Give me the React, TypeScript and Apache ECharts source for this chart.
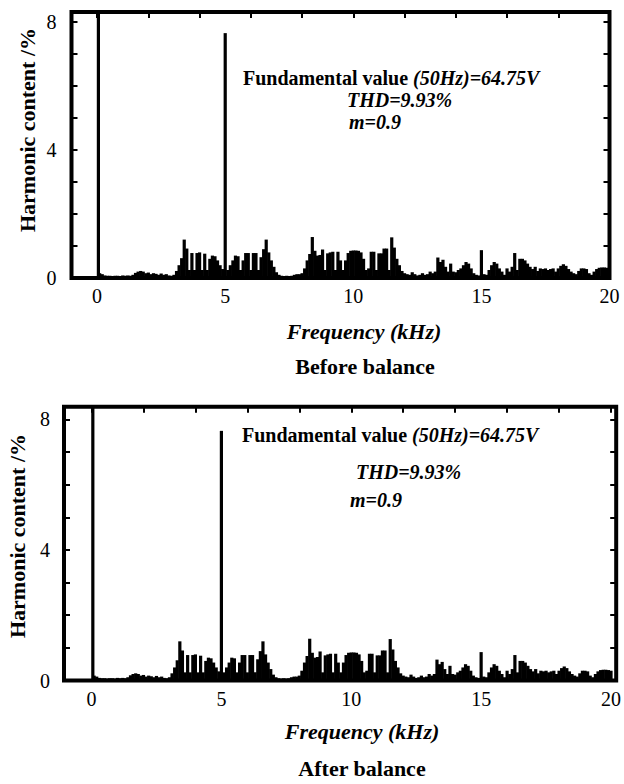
import React, { useEffect, useRef } from "react";
import * as echarts from "echarts";

// Harmonic spectrum (% of fundamental) at 0.1 kHz steps
const fundamentalKHz = 0.05;
const fundamentalPct = 100;
const band0to5 = [
  0.15, 0.12, 0.08, 0.07, 0.07, 0.06, 0.07, 0.07, 0.06, 0.08,
  0.07, 0.08, 0.07, 0.1, 0.16, 0.2, 0.22, 0.2, 0.15, 0.17,
  0.12, 0.15, 0.13, 0.1, 0.14, 0.1, 0.12, 0.08, 0.07, 0.1,
  0.22, 0.4, 0.62, 1.2, 0.92, 0.25, 0.78, 0.25, 0.78, 0.8,
  0.25, 0.76, 0.25, 0.6, 0.7, 0.68, 0.55, 0.4, 0.28, 7.65,
];
const band5to10 = [
  0.25, 0.4, 0.55, 0.7, 0.68, 0.25, 0.55, 0.78, 0.78, 0.25,
  0.78, 0.78, 0.25, 0.65, 0.9, 1.2, 0.8, 0.55, 0.35, 0.18,
  0.1, 0.07, 0.06, 0.07, 0.06, 0.07, 0.1, 0.12, 0.12, 0.15,
  0.3, 0.55, 0.75, 1.28, 0.85, 0.7, 0.72, 0.89, 0.25, 0.77,
  0.8, 0.82, 0.25, 0.82, 0.55, 0.25, 0.55, 0.78, 0.85, 0.86,
];
const band10to15 = [
  0.86, 0.85, 0.8, 0.6, 0.25, 0.3, 0.82, 0.82, 0.25, 0.77,
  0.77, 0.92, 0.92, 0.25, 1.27, 0.95, 0.6, 0.4, 0.22, 0.15,
  0.12, 0.1, 0.18, 0.12, 0.08, 0.1, 0.15, 0.1, 0.12, 0.2,
  0.15, 0.2, 0.64, 0.5, 0.57, 0.35, 0.2, 0.45, 0.2, 0.18,
  0.25, 0.3, 0.4, 0.5, 0.45, 0.3, 0.15, 0.1, 0.08, 0.87,
];
const band15to20 = [
  0.12, 0.1, 0.25, 0.4, 0.5, 0.45, 0.3, 0.2, 0.1, 0.3,
  0.2, 0.35, 0.78, 0.25, 0.6, 0.6, 0.55, 0.45, 0.35, 0.28,
  0.35, 0.22, 0.3, 0.28, 0.3, 0.25, 0.28, 0.3, 0.2, 0.3,
  0.38, 0.43, 0.38, 0.28, 0.2, 0.15, 0.12, 0.22, 0.3, 0.3,
  0.28, 0.15, 0.1, 0.2, 0.28, 0.32, 0.33, 0.33, 0.32, 0.3,
];
const stepKHz = 0.1;
const xTickLabels = [0, 5, 10, 15, 20];
const xMinorTicks = [0, 2, 4, 6, 8, 10, 12, 14, 16, 18, 20];
const yTickLabels = [0, 4, 8];
const yTicks = [0, 1, 2, 3, 4, 5, 6, 7, 8];

const SERIF = "Liberation Serif";

function buildData(): [number, number][] {
  const amps = [...band0to5, ...band5to10, ...band10to15, ...band15to20];
  const pts: [number, number][] = [[fundamentalKHz, fundamentalPct]];
  amps.forEach((v, i) => {
    pts.push([Math.round((i + 1) * stepKHz * 10) / 10, v]);
  });
  return pts;
}

export default function App() {
  const ref = useRef<HTMLDivElement>(null);
  useEffect(() => {
    if (!ref.current) return;
    const chart = echarts.init(ref.current, null, { renderer: "svg" });
    const data = buildData();

    const panels = [
      { left: 71.5, top: 12, width: 538, height: 266, xMin: -1, xMax: 20, yMax: 8.31, labelMargin: 15 },
      { left: 64, top: 406.7, width: 553, height: 273.8, xMin: -1.06, xMax: 20.2, yMax: 8.39, labelMargin: 14 },
    ];

    const grid = panels.map((p) => ({
      left: p.left, top: p.top, width: p.width, height: p.height,
      show: true, borderColor: "#000", borderWidth: 4, backgroundColor: "transparent",
    }));

    const tickStyle = { color: "#000", width: 2 };
    const xAxis: any[] = [];
    const yAxis: any[] = [];
    const series: any[] = [];
    panels.forEach((p, gi) => {
      xAxis.push({
        type: "value", gridIndex: gi, position: "bottom", min: p.xMin, max: p.xMax,
        axisLine: { show: false, onZero: false }, splitLine: { show: false },
        axisTick: { show: false },
        axisLabel: {
          customValues: xTickLabels, margin: 8, color: "#000",
          fontFamily: SERIF, fontSize: 20,
        },
      });
      xAxis.push({
        type: "value", gridIndex: gi, position: "top", min: p.xMin, max: p.xMax,
        axisLine: { show: false, onZero: false }, splitLine: { show: false },
        axisLabel: { show: false },
        axisTick: { show: true, inside: true, length: 6, customValues: xMinorTicks, lineStyle: tickStyle },
      });
      yAxis.push({
        type: "value", gridIndex: gi, position: "left", min: 0, max: p.yMax,
        axisLine: { show: false, onZero: false }, splitLine: { show: false },
        axisTick: { show: true, inside: true, length: 6, customValues: yTicks, lineStyle: tickStyle },
        axisLabel: {
          customValues: yTickLabels, margin: p.labelMargin, color: "#000",
          fontFamily: SERIF, fontSize: 20,
        },
      });
      yAxis.push({
        type: "value", gridIndex: gi, position: "right", min: 0, max: p.yMax,
        axisLine: { show: false, onZero: false }, splitLine: { show: false },
        axisLabel: { show: false },
        axisTick: { show: true, inside: true, length: 6, customValues: yTicks, lineStyle: tickStyle },
      });
      series.push({
        type: "bar", xAxisIndex: gi * 2, yAxisIndex: gi * 2, data,
        barWidth: 3.2, itemStyle: { color: "#000" }, clip: true, silent: true,
      });
    });

    const bold = (size: number, italic = false) => ({
      fontFamily: SERIF, fontWeight: "bold", fontSize: size,
      fontStyle: italic ? "italic" : "normal", fill: "#000",
    });

    const AS = 20;
    const annotation = (x: number, y1: number, xThd: number, yThd: number, xM: number, yM: number) => [
      {
        type: "text", x, y: y1,
        style: {
          text: "{a|Fundamental value }{b|(50Hz)=64.75V}",
          align: "left", verticalAlign: "middle",
          rich: { a: bold(AS), b: bold(AS, true) },
          ...bold(AS),
        },
      },
      { type: "text", x: xThd, y: yThd, style: { text: "THD=9.93%", align: "left", verticalAlign: "middle", ...bold(AS, true) } },
      { type: "text", x: xM, y: yM, style: { text: "m=0.9", align: "left", verticalAlign: "middle", ...bold(AS, true) } },
    ];

    const centered = (text: string, x: number, y: number, size: number, italic = false, rotation = 0) => ({
      type: "text", x, y, rotation,
      style: { text, align: "center", verticalAlign: "middle", ...bold(size, italic) },
    });

    chart.setOption({
      animation: false,
      backgroundColor: "#fff",
      grid, xAxis, yAxis, series,
      graphic: [
        ...annotation(243, 78, 347, 100, 349, 122),
        ...annotation(242, 435, 356, 472, 350, 500),
        centered("Harmonic content /%", 27, 130, 22, false, Math.PI / 2),
        centered("Harmonic content /%", 17, 536, 22, false, Math.PI / 2),
        centered("Frequency (kHz)", 364, 331, 22, true),
        centered("Frequency (kHz)", 362, 731, 22, true),
        centered("Before balance", 365, 366, 22),
        centered("After balance", 362, 768, 22),
      ],
    });
    return () => chart.dispose();
  }, []);
  return (
    <div
      ref={ref}
      style={{ position: "fixed", left: 0, top: 0, width: 624, height: 784 }}
    />
  );
}
